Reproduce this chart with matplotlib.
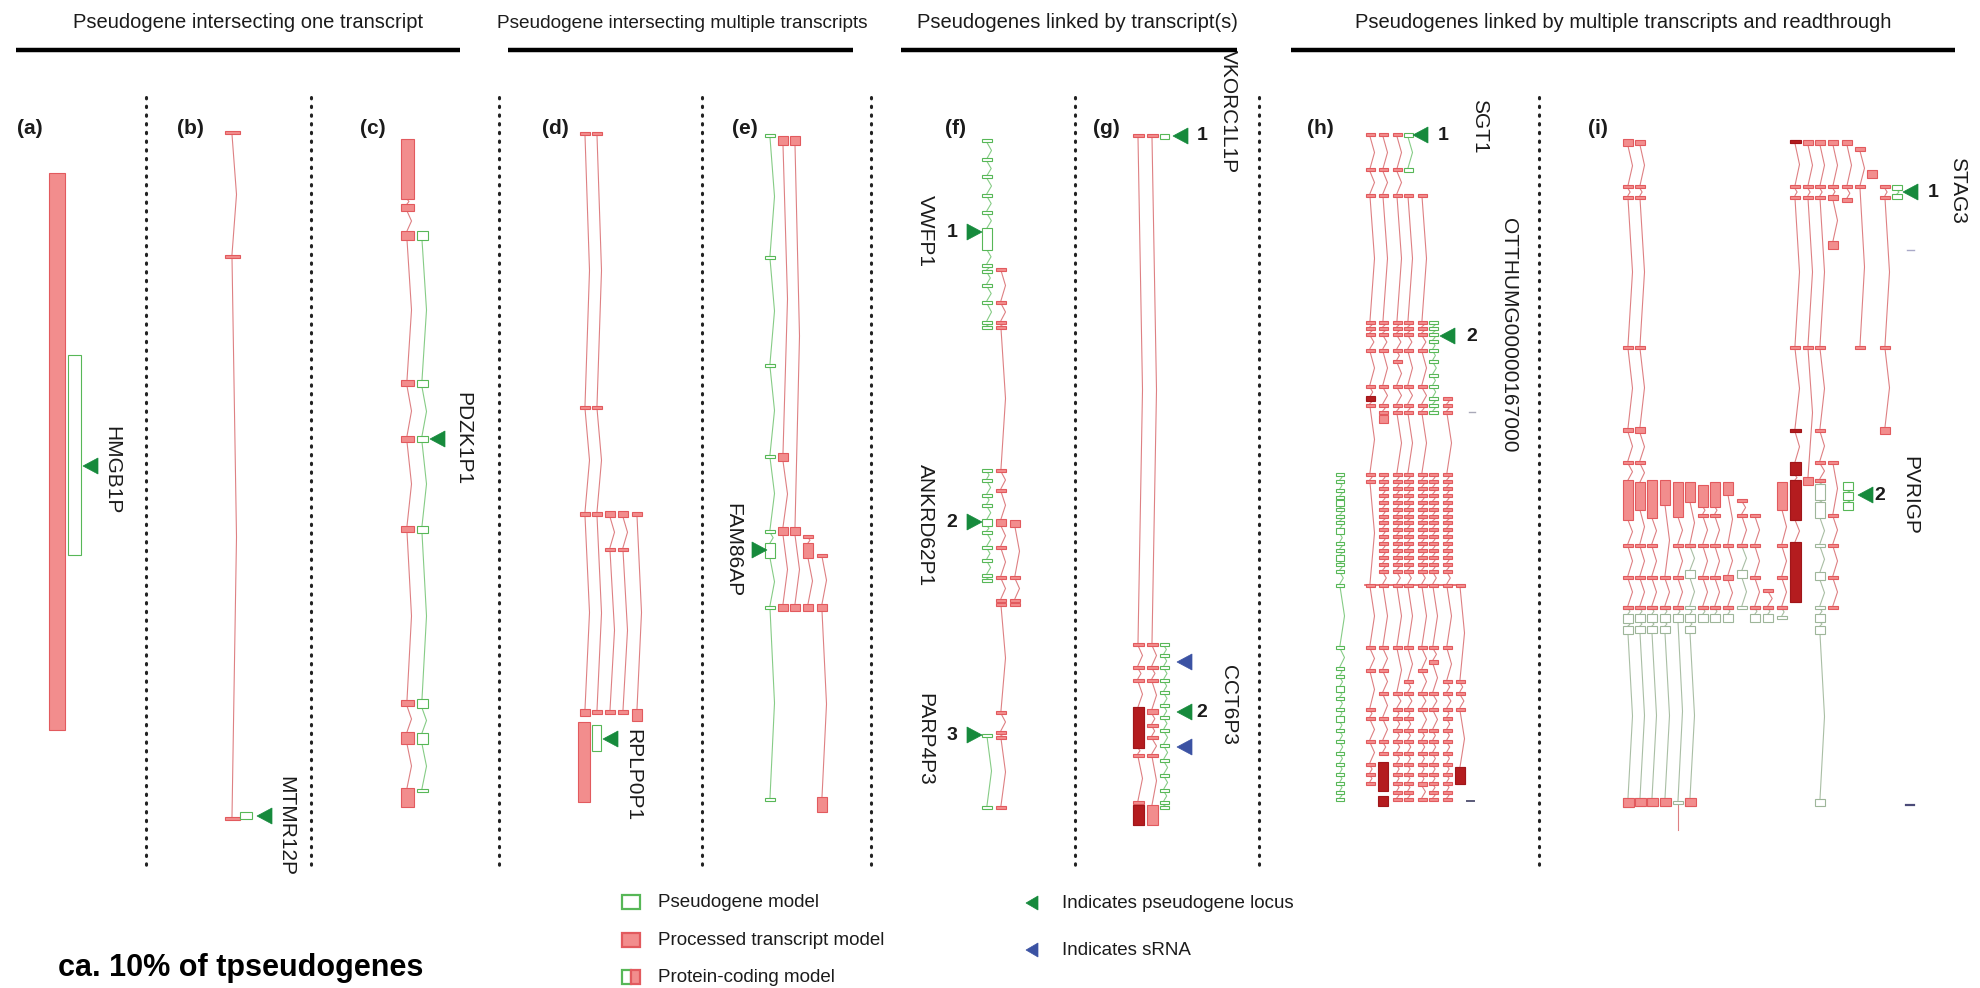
import numpy as np
import matplotlib
matplotlib.use("Agg")
import matplotlib.pyplot as plt
from matplotlib.patches import Rectangle, Polygon

plt.rcParams['font.family'] = ['Liberation Sans', 'DejaVu Sans']

# ---------------------------------------------------------------- data
# Section headers and panel letters
HEADERS = ["Pseudogene intersecting one transcript",
           "Pseudogene intersecting multiple transcripts",
           "Pseudogenes linked by transcript(s)",
           "Pseudogenes linked by multiple transcripts and readthrough"]
PANEL_LETTERS = ["(a)", "(b)", "(c)", "(d)", "(e)", "(f)", "(g)", "(h)", "(i)"]

# Exon coordinates along the locus (top = 5' end of the drawn region).
# A number is a short exon, a pair is an exon with its extent.
# (a)
A_PROC = [(173, 730)]
A_PSEUDO = [(355, 555)]
# (b)
B_PROC = [133, 256, 818]
B_PSEUDO = [(812, 819)]
# (c)
C_PROC = [(139, 199), (204, 211), (231, 240), (380, 386), (436, 442), (526, 532),
          (700, 706), (732, 744), (788, 807)]
C_PSEUDO = [(231, 240), (380, 387), (436, 442), (526, 533), (699, 708), (733, 744), 790]
# (d)
D_PROC_1 = [134, 407, (512, 516), (709, 716)]
D_PROC_2 = [134, 407, (512, 516), (710, 714)]
D_PROC_3 = [(511, 517), 549, (710, 714)]
D_PROC_4 = [(511, 517), 549, (710, 714)]
D_PROC_5 = [(512, 516), (709, 721)]
D_PROC_6 = [(722, 802)]
D_PSEUDO = [(725, 751)]
# (e)
E_PSEUDO = [136, 257, 365, 456, 531, (543, 558), 607, 799]
E_PROC_1 = [(136, 145), (453, 461), (527, 535), (604, 611)]
E_PROC_2 = [(136, 145), (527, 535), (604, 611)]
E_PROC_3 = [536, (543, 558), (604, 611)]
E_PROC_4 = [555, (604, 611), (797, 812)]
# (f)
F_PSEUDO_1 = [141, 160, 177, 195, 212, (228, 250), 265, 271, 285, 302, 322, 327]
F_PSEUDO_2 = [470, 480, 495, 505, (519, 526), 532, 547, 560, 575, 580]
F_PSEUDO_3 = [735, 807]
F_PROC_1 = [269, 302, 322, 327, 470, 490, (519, 526), 547, 577, 600, 604,
            712, 732, 737, 807]
F_PROC_2 = [(520, 527), 577, 600, 604]
# (g)
G_PROC_1 = [136, 644, 667, 680, (707, 748), 755, 802, (805, 825)]
G_PROC_2 = [136, 644, 667, 680, (709, 714), 725, 737, 755, (805, 825)]
G_DARK = [(707, 748), (805, 825)]
G_PSEUDO_1 = [(134, 139)]
G_PSEUDO_2 = [644, 655, 667, 680, 692, 705, 717, 730, 745, 760, 775, 790, 802, 807]
# (h)
H_PSEUDO_SGT1 = [(133, 137), (168, 172)]
H_PSEUDO_OTT = [322, 328, 334, 341, 350, 361, 375, 386, 398, 405, 412]
H_PSEUDO_LEFT = [474, 481, 490, 497, (500, 506), 509, 516, 522, (528, 534), 543, 550,
                 (555, 561), 564, 571, 585, 647, 668, 676, (686, 692), 698, 709,
                 (716, 722), 730, 741, 753, 764, 774, 783, 792, 799]
H_PROC_1 = [135, 170, 195, 322, 328, 334, 350, 386, 398, 405, 474, 481, 585, 647,
            670, 709, 718, 741, 764, 774, 783]
H_PROC_2 = [135, 170, 195, 322, 328, 334, 350, 386, 405, 412, (415, 423)]
H_PROC_2B = [474, 481, 488, 495, 502, 509, 516, 522, 529, 536, 543, 550, 557, 564,
             571, 585, 647, 670, 693, 718, 741, 753]
H_PROC_3 = [135, 170, 195, 322, 328, 334, 350, 361, 386, 405, 412, 474, 481, 488,
            495, 502, 509, 516, 522, 529, 536, 543, 550, 557, 564, 571, 585, 647,
            693, 709, 718, 730, 741, 753, 764, 774, 783, 792, 799]
H_PROC_4 = [195, 322, 328, 334, 350, 386, 405, 412, 474, 481, 488, 495, 502, 509,
            516, 522, 529, 536, 543, 550, 557, 564, 571, 585, 647, 681, 693, 709,
            718, 730, 741, 753, 764, 774, 783, 792, 799]
H_PROC_5 = [195, 322, 328, 334, 350, 386, 405, 412, 474, 481, 488, 495, 502, 509,
            516, 522, 529, 536, 543, 550, 557, 564, 571, 585, 647, 670, 693, 709,
            730, 741, 753, 764, 774, (782, 786), 799]
H_PROC_6 = [474, 481, 488, 495, 502, 509, 516, 522, 529, 536, 543, 550, 557, 564,
            571, 585, 647, (660, 664), 693, 709, 730, 741, 753, 764, 774, 783, 792, 799]
H_PROC_7 = [398, 405, 412, 474, 481, 488, 495, 502, 509, 516, 522, 529, 536, 543,
            550, 557, 564, 571, 585, 647, 681, 693, 709, 718, 730, 741, 753, 764,
            774, 783, 792, 799]
H_PROC_8 = [585, 681, 693, 709, (767, 784)]
H_DARK_1 = [(396, 401)]
H_DARK_2 = [(762, 791), (796, 806)]
H_DARK_8 = [(767, 784)]
# (i)
I_PROC_L1 = [(139, 146), 187, 197, 347, (428, 432), 462, (480, 520), 545, 577, 607]
I_PROC_L2 = [(140, 145), 187, 197, 347, (427, 433), 462, (482, 510), 545, 577, 607]
I_PROC_L3 = [(480, 518), 545, 577, 607]
I_PROC_L4 = [(480, 505), 577, 607]
I_PROC_L5 = [(482, 517), 545, 577, 607]
I_PROC_L6 = [(482, 502), 545]
I_PROC_L7 = [(485, 507), 515, 545, 577, 607]
I_PROC_L8 = [(482, 507), 515, 545, 577, 607]
I_PROC_L9 = [(482, 495), 545, (575, 580), 607]
I_PROC_L10 = [500, 515, 545]
I_PROC_L11 = [515, 545, 577, 607]
I_PROC_L12 = [590, 607]
I_PROC_L13 = [(482, 510), 545, 577, 607]
I_RT_L1 = [607, (614, 623), (626, 634), (798, 807)]
I_RT_L2 = [607, (614, 622), (626, 633), (798, 806)]
I_RT_L3 = [607, (614, 622), (626, 633), (798, 806)]
I_RT_L4 = [607, (614, 622), (626, 633), (798, 806)]
I_RT_L5 = [607, (614, 622), 802]
I_RT_L6 = [545, (570, 578), 607, (614, 622), (626, 633), (798, 806)]
I_RT_L7 = [607, (614, 622)]
I_RT_L8 = [607, (614, 622)]
I_RT_L9 = [607, (614, 622)]
I_RT_L10 = [545, (570, 578), 607]
I_RT_L11 = [607, (614, 622)]
I_RT_L12 = [607, (614, 622)]
I_RT_L13 = [607, 617]
I_END_BOXES = [(798, 807), (798, 806), (798, 806), (798, 806), None, (798, 806)]
I_PROC_R1 = [142, 187, 197, 347, 430, (462, 475), (480, 520), (542, 602)]
I_DARK_R1 = [142, 430, (462, 475), (480, 520), (542, 602)]
I_PROC_R2 = [(140, 145), 187, 197, 347, (477, 485)]
I_PROC_R3 = [(140, 145), 187, 197, 347, 430, 462, 480]
I_RT_R3 = [480, (484, 500), (502, 518), 545, (572, 580), 607, (614, 622), (626, 634),
           (799, 806)]
I_PROC_R4 = [(140, 145), 187, (195, 200), (241, 249)]
I_PROC_R5 = [(140, 145), 187, (198, 202)]
I_PROC_R6 = [(147, 151), 187, 347]
I_PROC_R7 = [(170, 178)]
I_PROC_R8 = [187, 197, 347, (427, 434)]
I_PROC_R10 = [462, 515, 545, 577, 607]
I_PSEUDO_STAG3 = [(185, 190), (194, 199)]
I_PSEUDO_PVRIG = [(482, 490), (492, 500), (502, 510)]

# Gene names and sRNA marker positions
GENE_LABELS = ["HMGB1P", "MTMR12P", "PDZK1P1", "RPLP0P1", "FAM86AP",
               "VWFP1", "ANKRD62P1", "PARP4P3", "VKORC1L1P", "CCT6P3",
               "SGT1", "OTTHUMG00000167000", "STAG3", "PVRIGP"]
SRNA_POSITIONS = [662, 747]

LEGEND_BOXES = ["Pseudogene model", "Processed transcript model", "Protein-coding model"]
LEGEND_ARROWS = ["Indicates pseudogene locus", "Indicates sRNA"]
FOOTNOTE = "ca. 10% of tpseudogenes"

# ---------------------------------------------------------------- styles
RED_FACE, RED_EDGE, RED_LINE = "#f28d8d", "#e25a5e", "#de8083"
DARK_FACE, DARK_EDGE = "#b41c1f", "#a0161a"
GREEN_EDGE, GREEN_LINE = "#57b757", "#86cc86"
TINT_EDGE, TINT_LINE = "#9eb69a", "#a9bea4"
ARROW_GREEN, ARROW_BLUE = "#168a3c", "#3b52a3"
INK = "#1b1b1b"

STYLES = {
    "proc": dict(face=RED_FACE, edge=RED_EDGE, line=RED_LINE, introns=True),
    "pseudo": dict(face="white", edge=GREEN_EDGE, line=GREEN_LINE, introns=True),
    "tint": dict(face="white", edge=TINT_EDGE, line=TINT_LINE, introns=True),
    "dark": dict(face=DARK_FACE, edge=DARK_EDGE, line=None, introns=False),
    "block": dict(face=RED_FACE, edge=RED_EDGE, line=None, introns=False),
}

W, H = 1980, 988
fig = plt.figure(figsize=(W / 100, H / 100), dpi=100)
ax = fig.add_axes([0, 0, 1, 1])
ax.set_xlim(0, W)
ax.set_ylim(H, 0)
ax.axis("off")


def spans(exons):
    return [(e - 1.5, e + 1.5) if np.isscalar(e) else e for e in exons]


def transcript(x, exons, kind, w=10.0):
    st = STYLES[kind]
    sp = spans(exons)
    if st["introns"]:
        for (a0, a1), (b0, b1) in zip(sp[:-1], sp[1:]):
            gap = b0 - a1
            if gap <= 0.5:
                continue
            bend = min(4.5, max(2.0, gap * 0.3))
            ax.plot([x, x + bend, x], [a1, (a1 + b0) / 2, b0], color=st["line"],
                    lw=0.8, zorder=2, solid_joinstyle="miter")
    for y0, y1 in sp:
        ax.add_patch(Rectangle((x - w / 2, y0), w, y1 - y0, facecolor=st["face"],
                               edgecolor=st["edge"], lw=0.8, zorder=3))


def arrow(tip_x, y, direction=-1, color=ARROW_GREEN, size=15, half=8):
    # direction -1: pointing left (tip on the left), +1: pointing right
    base = tip_x - direction * size
    ax.add_patch(Polygon([(tip_x, y), (base, y - half), (base, y + half)],
                         closed=True, facecolor=color, edgecolor=color, lw=0.5, zorder=5))


def vlabel(x, y, s, size=15):
    ax.text(x, y, s, rotation=-90, ha="center", va="center", fontsize=size, color=INK)


def num(x, y, s):
    ax.text(x, y, s, ha="center", va="center", fontsize=14, fontweight="bold", color=INK)


# ---------------------------------------------------------------- headers
header_x = [248, 682, 1077, 1623]
header_size = [14.5, 13.7, 14.5, 14.5]
header_lines = [(16, 460), (508, 853), (901, 1237), (1291, 1955)]
for s, cx, fs, (x0, x1) in zip(HEADERS, header_x, header_size, header_lines):
    ax.text(cx, 23, s, ha="center", va="center", fontsize=fs, color=INK)
    ax.plot([x0, x1], [50, 50], color="black", lw=3.2, solid_capstyle="butt")

# dotted separators
for x in [146, 311, 499, 702, 871, 1075, 1259, 1539]:
    ax.plot([x, x], [97, 866], color="#222222", lw=2.2, linestyle=(0, (0.45, 2.4)),
            dash_capstyle="round")

# panel letters
for s, x in zip(PANEL_LETTERS, [30, 190, 373, 555, 745, 955, 1106, 1320, 1598]):
    ax.text(x, 128, s, ha="center", va="center", fontsize=15, fontweight="bold", color=INK)

# ---------------------------------------------------------------- (a)
transcript(57, A_PROC, "proc", 16)
transcript(74.5, A_PSEUDO, "pseudo", 13)
arrow(83, 466)
vlabel(112, 470, GENE_LABELS[0])

# ---------------------------------------------------------------- (b)
transcript(232, B_PROC, "proc", 15)
transcript(246, B_PSEUDO, "pseudo", 12)
arrow(257, 816)
vlabel(286, 826, GENE_LABELS[1])

# ---------------------------------------------------------------- (c)
transcript(407, C_PROC, "proc", 13)
transcript(422, C_PSEUDO, "pseudo", 11)
arrow(430, 439)
vlabel(463, 439, GENE_LABELS[2])

# ---------------------------------------------------------------- (d)
for x, ex in zip([585, 597, 610, 623, 637],
                 [D_PROC_1, D_PROC_2, D_PROC_3, D_PROC_4, D_PROC_5]):
    transcript(x, ex, "proc", 10)
transcript(584, D_PROC_6, "proc", 12)
transcript(596.5, D_PSEUDO, "pseudo", 9)
arrow(603, 739)
vlabel(633, 775, GENE_LABELS[3])

# ---------------------------------------------------------------- (e)
transcript(770, E_PSEUDO, "pseudo", 10)
for x, ex in zip([783, 795, 808, 822], [E_PROC_1, E_PROC_2, E_PROC_3, E_PROC_4]):
    transcript(x, ex, "proc", 10)
arrow(767, 550, direction=+1)
vlabel(733, 550, GENE_LABELS[4])

# ---------------------------------------------------------------- (f)
transcript(1001, F_PROC_1, "proc", 10)
transcript(1015, F_PROC_2, "proc", 10)
for ex in [F_PSEUDO_1, F_PSEUDO_2, F_PSEUDO_3]:
    transcript(987, ex, "pseudo", 10)
for (y, n, lab, ly) in [(232, "1", GENE_LABELS[5], 231), (522, "2", GENE_LABELS[6], 525),
                        (735, "3", GENE_LABELS[7], 739)]:
    arrow(982, y, direction=+1)
    num(952, y, n)
    vlabel(925, ly, lab)

# ---------------------------------------------------------------- (g)
transcript(1138, G_PROC_1, "proc", 11)
transcript(1152, G_PROC_2, "proc", 11)
transcript(1138, G_DARK, "dark", 11)
transcript(1164, G_PSEUDO_1, "pseudo", 9)
transcript(1164, G_PSEUDO_2, "pseudo", 9)
arrow(1173, 136)
num(1202, 136, "1")
arrow(1177, 712)
num(1202, 712, "2")
for y in SRNA_POSITIONS:
    arrow(1177, y, color=ARROW_BLUE)
vlabel(1228, 112, GENE_LABELS[8])
vlabel(1228, 705, GENE_LABELS[9])

# ---------------------------------------------------------------- (h)
transcript(1340, H_PSEUDO_LEFT, "pseudo", 8)
hx = [1370, 1383, 1397, 1408, 1422, 1433, 1447, 1460]
# readthrough join across the lower block
ax.plot([1365, 1462], [585, 585], color=RED_EDGE, lw=1.2, zorder=2)
transcript(hx[0], H_PROC_1, "proc", 9)
transcript(hx[1], H_PROC_2, "proc", 9)
transcript(hx[1], H_PROC_2B, "proc", 9)
transcript(hx[2], H_PROC_3, "proc", 9)
transcript(hx[3], H_PROC_4, "proc", 9)
transcript(hx[4], H_PROC_5, "proc", 9)
transcript(hx[5], H_PROC_6, "proc", 9)
transcript(hx[6], H_PROC_7, "proc", 9)
transcript(hx[7], H_PROC_8, "proc", 9)
transcript(hx[0], H_DARK_1, "dark", 9)
transcript(hx[1], H_DARK_2, "dark", 10)
transcript(hx[7], H_DARK_8, "dark", 10)
transcript(hx[3], H_PSEUDO_SGT1, "pseudo", 9)
transcript(hx[5], H_PSEUDO_OTT, "pseudo", 9)
arrow(1413, 135)
num(1443, 135, "1")
arrow(1440, 336)
num(1472, 336, "2")
vlabel(1480, 126, GENE_LABELS[10])
vlabel(1509, 335, GENE_LABELS[11])
ax.plot([1469, 1475], [412, 412], color="#a9a9b8", lw=1.0)
ax.plot([1467, 1474], [801, 801], color="#5a5a78", lw=1.4)

# ---------------------------------------------------------------- (i)
lx = [1628, 1640, 1652, 1665, 1678, 1690, 1703, 1715, 1728, 1742, 1755, 1768, 1782]
left_proc = [I_PROC_L1, I_PROC_L2, I_PROC_L3, I_PROC_L4, I_PROC_L5, I_PROC_L6,
             I_PROC_L7, I_PROC_L8, I_PROC_L9, I_PROC_L10, I_PROC_L11, I_PROC_L12,
             I_PROC_L13]
left_rt = [I_RT_L1, I_RT_L2, I_RT_L3, I_RT_L4, I_RT_L5, I_RT_L6, I_RT_L7, I_RT_L8,
           I_RT_L9, I_RT_L10, I_RT_L11, I_RT_L12, I_RT_L13]
for x, p, r in zip(lx, left_proc, left_rt):
    transcript(x, r, "tint", 10)
    transcript(x, p, "proc", 10)
for x, b in zip(lx, I_END_BOXES):
    if b is not None:
        transcript(x, [b], "block", 11)
ax.plot([lx[4], lx[4]], [802, 830], color=RED_LINE, lw=0.8)

rx = [1795, 1808, 1820, 1833, 1847, 1860, 1872, 1885]
transcript(rx[0], I_PROC_R1, "proc", 10)
transcript(rx[0], I_DARK_R1, "dark", 11)
transcript(rx[1], I_PROC_R2, "proc", 10)
transcript(rx[2], I_RT_R3, "tint", 10)
transcript(rx[2], I_PROC_R3, "proc", 10)
transcript(rx[3], I_PROC_R4, "proc", 10)
transcript(rx[3], I_PROC_R10, "proc", 10)
transcript(rx[4], I_PROC_R5, "proc", 10)
transcript(rx[5], I_PROC_R6, "proc", 10)
transcript(rx[6], I_PROC_R7, "proc", 10)
transcript(rx[7], I_PROC_R8, "proc", 10)
transcript(1897, I_PSEUDO_STAG3, "pseudo", 10)
transcript(1848, I_PSEUDO_PVRIG, "pseudo", 10)
arrow(1903, 192)
num(1933, 192, "1")
arrow(1858, 495)
num(1880, 495, "2")
vlabel(1958, 190, GENE_LABELS[12])
vlabel(1910, 495, GENE_LABELS[13])
ax.plot([1907, 1914], [250, 250], color="#a9a9c8", lw=1.0)
ax.plot([1906, 1914], [805, 805], color="#4a4a78", lw=1.6)

# ---------------------------------------------------------------- legend
ly = [902, 940, 977]
bx, bw, bh = 622, 18, 14
ax.add_patch(Rectangle((bx, ly[0] - bh / 2), bw, bh, facecolor="white",
                       edgecolor=GREEN_EDGE, lw=1.6))
ax.add_patch(Rectangle((bx, ly[1] - bh / 2), bw, bh, facecolor=RED_FACE,
                       edgecolor=RED_EDGE, lw=1.6))
ax.add_patch(Rectangle((bx, ly[2] - bh / 2), bw / 2, bh, facecolor="white",
                       edgecolor=GREEN_EDGE, lw=1.6))
ax.add_patch(Rectangle((bx + bw / 2, ly[2] - bh / 2), bw / 2, bh, facecolor=RED_FACE,
                       edgecolor=RED_EDGE, lw=1.6))
for s, y in zip(LEGEND_BOXES, ly):
    ax.text(658, y, s, ha="left", va="center", fontsize=13.5, color=INK)
arrow(1026, 903, size=12, half=7)
arrow(1026, 950, color=ARROW_BLUE, size=12, half=7)
for s, y in zip(LEGEND_ARROWS, [903, 950]):
    ax.text(1062, y, s, ha="left", va="center", fontsize=13.5, color=INK)

ax.text(58, 968, FOOTNOTE, ha="left", va="center", fontsize=22, fontweight="bold",
        color="black")

fig.savefig("out.png", dpi=100, facecolor="white")
